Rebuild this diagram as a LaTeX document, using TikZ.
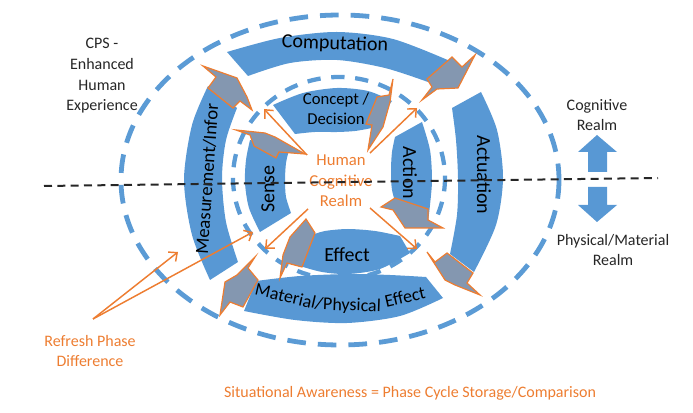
\documentclass[tikz,border=0pt]{standalone}
\usepackage{fontspec}
\setmainfont{Carlito}
\usetikzlibrary{arrows.meta}
\definecolor{bandblue}{RGB}{88,152,212}
\definecolor{dashblue}{RGB}{91,155,213}
\definecolor{greyarrow}{RGB}{132,151,176}
\definecolor{orng}{RGB}{237,125,49}
\tikzset{
  band/.style={fill=bandblue, draw=none},
  garrow/.style={fill=greyarrow, draw=orng, line width=0.9pt, line join=miter},
  oarrow/.style={draw=orng, line width=1.1pt, -{Straight Barb[length=5pt,width=9pt]}},
  dashring/.style={draw=dashblue, line width=3.6pt, dash pattern=on 14pt off 9pt},
  dashringin/.style={draw=dashblue, line width=3.2pt, dash pattern=on 10pt off 8pt},
  bandtxt/.style={inner sep=0pt, font=\fontsize{15}{18}\selectfont, text=black},
  mattxt/.style={inner sep=0pt, font=\fontsize{13.5}{15}\selectfont, text=black},
  innertxt/.style={inner sep=0pt, align=center, font=\fontsize{12.5}{15}\selectfont, text=black},
  sidetxt/.style={inner sep=0pt, align=center, font=\fontsize{12}{15.5}\selectfont, text=black!85},
  orangetxt/.style={inner sep=0pt, align=center, font=\fontsize{12}{15.5}\selectfont, text=orng},
  realmline/.style={draw=black!85, line width=1.5pt, dash pattern=on 6pt off 4pt}
}
\begin{document}
\begin{tikzpicture}[x=0.75pt,y=-0.75pt]
\useasboundingbox (0,0) rectangle (693,413);

% dashed rings
\draw[dashring] (340,180) ellipse [x radius=219, y radius=165];
\draw[dashringin] (339,178) ellipse [x radius=106, y radius=101];

% outer ring bands
\fill[band] plot[smooth] coordinates {(227,52) (280,38) (337,32) (393,39) (450,61)}
  -- plot[smooth] coordinates {(428,82) (385,68) (337,60) (290,63) (248,76)} -- cycle;
\fill[band] plot[smooth] coordinates {(481,92) (497,130) (503,178) (496,225) (474,272)}
  -- plot[smooth] coordinates {(450,254) (457,215) (458,178) (456,140) (452,108)} -- cycle;
\fill[band] plot[smooth] coordinates {(244,311) (295,320) (347,323) (400,316) (443,298)}
  -- plot[smooth] coordinates {(426,277) (390,275) (350,274) (300,276) (256,281)} -- cycle;
\fill[band] plot[smooth] coordinates {(210,280) (192,235) (184,180) (192,125) (208,86)}
  -- plot[smooth] coordinates {(237,108) (226,140) (222,178) (226,222) (238,262)} -- cycle;

% inner ring bands
\fill[band] plot[smooth] coordinates {(273,105) (303,93) (337,88) (368,91) (392,101)}
  -- plot[smooth] coordinates {(372,128) (355,131) (337,132) (315,132) (295,134)} -- cycle;
\fill[band] plot[smooth] coordinates {(422,122) (430,150) (432,180) (430,205) (428,222)}
  -- plot[smooth] coordinates {(398,211) (392,190) (391,170) (392,152) (395,137)} -- cycle;
\fill[band] plot[smooth] coordinates {(410,253) (380,269) (348,274) (322,272) (300,266)}
  -- plot[smooth] coordinates {(312,235) (325,231) (348,229) (375,231) (400,236)} -- cycle;
\fill[band] plot[smooth] coordinates {(260,232) (249,208) (245,183) (246,160) (250,140)}
  -- plot[smooth] coordinates {(289,150) (286,163) (285,180) (286,197) (291,213)} -- cycle;

% grey block arrows (outer)
\draw[garrow] (203,66) -- (237,78) -- (247,97) -- (252,110) -- (240,101) -- (233,108) -- (208,88) -- (216,77) -- cycle;
\draw[garrow] (427,79) -- (452,57) -- (462,67) -- (475,55) -- (458,88) -- (437,89) -- (422,100) -- (432,87) -- cycle;
\draw[garrow] (427,252) -- (435,262) -- (447,253) -- (473,273) -- (467,283) -- (480,295) -- (455,285) -- (445,280) -- cycle;
\draw[garrow] (255,257) -- (248,268) -- (258,280) -- (243,307) -- (230,302) -- (220,315) -- (225,282) -- (237,275) -- (247,265) -- cycle;

% grey block arrows (inner)
\draw[garrow] (236,130) -- (265,133) -- (275,137) -- (305,154) -- (279,152) -- (276,158) -- (254,146) -- (250,135) -- cycle;
\draw[garrow] (393,79) -- (389,95) -- (377,97) -- (366,124) -- (372,125) -- (368,150) -- (383,127) -- (390,102) -- cycle;
\draw[garrow] (395,198) -- (428,209) -- (428,220) -- (443,228) -- (405,228) -- (393,210) -- (381,207) -- cycle;
\draw[garrow] (306,219) -- (315,233) -- (302,267) -- (287,263) -- (280,278) -- (283,255) -- (290,237) -- cycle;

% band labels
\node[bandtxt, rotate=-2] (comp) at (335,44) {Computation};
\node[bandtxt, rotate=-90] (act) at (484,175) {Actuation};
\node[bandtxt, font=\fontsize{14}{17}\selectfont, rotate=86] (meas) at (207,179) {Measurement/Infor};
\node[mattxt, rotate=-13] (mat1) at (289,297) {Material/};
\node[mattxt, rotate=-2] (mat2) at (352,306) {Physical};
\node[mattxt, rotate=13] (mat3) at (405,297) {Effect};
\node[innertxt] (conc) at (336,109) {Concept /\\Decision};
\node[bandtxt, rotate=90] (sense) at (268,189) {Sense};
\node[bandtxt, rotate=-90] (action) at (410,173) {Action};
\node[bandtxt] (effect) at (347,255) {Effect};

% centre text
\node[orangetxt, font=\fontsize{12.5}{15.5}\selectfont] (hcr) at (341,181) {Human\\Cognitive\\Realm};

% orange arrows from centre
\coordinate (s1) at (307,155); \coordinate (e1) at (264,109);
\coordinate (s2) at (370,153); \coordinate (e2) at (417,108);
\coordinate (s3) at (308,209); \coordinate (e3) at (265,249);
\coordinate (s4) at (370,208); \coordinate (e4) at (417,249);
\draw[oarrow] (s1) -- (e1);
\draw[oarrow] (s2) -- (e2);
\draw[oarrow] (s3) -- (e3);
\draw[oarrow] (s4) -- (e4);

% refresh arrows
\coordinate (rf) at (93,319);
\coordinate (rf1) at (178,252);
\coordinate (rf2) at (253,232);
\draw[oarrow] (rf) -- (rf1);
\draw[oarrow] (rf) -- (rf2);

% realm dividing line
\coordinate (la) at (44,186);
\coordinate (lb) at (658,178);
\draw[realmline] (la) -- (lb);

% up / down arrows
\fill[bandblue] (588,172) -- (588,152) -- (578,152) -- (597,135) -- (617,152) -- (607,152) -- (607,172) -- cycle;
\fill[bandblue] (588,187) -- (607,187) -- (607,205) -- (617,205) -- (597,222) -- (578,205) -- (588,205) -- cycle;

% side texts
\node[sidetxt] (cps) at (102,76) {CPS -\\Enhanced\\Human\\Experience};
\node[sidetxt] (cog) at (597,115) {Cognitive\\Realm};
\node[sidetxt] (phys) at (613,250) {Physical/Material\\Realm};
\node[orangetxt] (refr) at (90,351) {Refresh Phase\\Difference};
\node[orangetxt] (sa) at (410,393) {Situational Awareness = Phase Cycle Storage/Comparison};
\end{tikzpicture}
\end{document}
